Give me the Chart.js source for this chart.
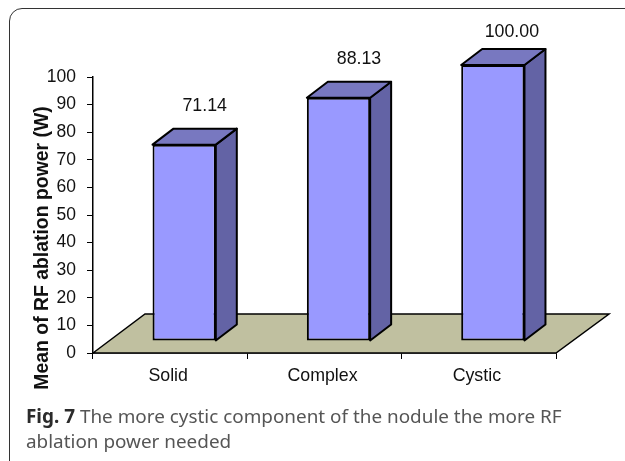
<!DOCTYPE html>
<html>
<head>
<meta charset="utf-8">
<title>Fig. 7</title>
<script src="https://cdn.jsdelivr.net/npm/chart.js@4"></script>
<style>
  html, body { margin: 0; padding: 0; background: #fff; width: 625px; height: 461px; overflow: hidden; }
  #graf { position: absolute; left: 0; top: 0; }
  #marco {
    position: absolute; left: 9px; top: 8px; width: 680px; height: 480px;
    border: 1.5px solid #333; border-radius: 13px;
  }
  #pie {
    position: absolute; left: 26px; top: 404px; width: 598px;
    font: 18.9px/25px "Noto Sans", sans-serif; color: #555;
  }
  #pie b { color: #2b2b2b; }
</style>
</head>
<body>
<canvas id="graf" width="625" height="461"></canvas>
<div id="marco"></div>
<div id="pie"><b>Fig. 7</b> The more cystic component of the nodule the more RF<br>ablation power needed</div>
<script>
const categories = ['Solid', 'Complex', 'Cystic'];
const values = [71.14, 88.13, 100.00];
const valueLabels = ['71.14', '88.13', '100.00'];
const yTitle = 'Mean of RF ablation power (W)';

const font = '"Liberation Sans", Arial, sans-serif';

// Pseudo 3D: bars sit on the floor, shifted from the axis
const shiftX = 14;
const shiftY = -12;
const depthX = 21;
const depthY = 16;

function poly(c, pts, fill) {
  c.beginPath();
  pts.forEach((p, i) => i ? c.lineTo(p[0], p[1]) : c.moveTo(p[0], p[1]));
  c.closePath();
  c.fillStyle = fill;
  c.fill();
  c.stroke();
}

const fake3d = {
  id: 'fake3d',
  beforeDatasetsDraw(chart) {
    const c = chart.ctx;
    const a = chart.chartArea;
    c.save();
    c.strokeStyle = '#000';
    c.lineWidth = 1.5;
    poly(c, [[a.left, a.bottom], [a.left + 52, a.bottom - 39], [a.right + 53, a.bottom - 39], [a.right, a.bottom]], '#c0c0a0');
    c.restore();
  },
  beforeDatasetDraw(chart) {
    chart.ctx.save();
    chart.ctx.translate(shiftX, shiftY);
  },
  afterDatasetDraw(chart, args) {
    const c = chart.ctx;
    c.strokeStyle = '#000';
    c.lineWidth = 2;
    c.lineJoin = 'round';
    args.meta.data.forEach(bar => {
      const l = bar.x - bar.width / 2;
      const r = bar.x + bar.width / 2;
      poly(c, [[r, bar.y], [r + depthX, bar.y - depthY], [r + depthX, bar.base - depthY], [r, bar.base]], '#6363a5');
      poly(c, [[l, bar.y], [l + depthX, bar.y - depthY], [r + depthX, bar.y - depthY], [r, bar.y]], '#7878c0');
    });
    c.restore();
  },
  afterDraw(chart) {
    const c = chart.ctx;
    const meta = chart.getDatasetMeta(0);
    c.save();
    c.fillStyle = '#111';
    c.textAlign = 'center';
    c.textBaseline = 'middle';
    c.font = '17.8px ' + font;
    meta.data.forEach((bar, i) => {
      const top = bar.y + shiftY;
      c.fillText(valueLabels[i], bar.x + shiftX + (i === 2 ? 19 : 20.5), Math.max(top - 39, 32));
    });
    c.translate(43, 248);
    c.rotate(-Math.PI / 2);
    c.font = 'bold 19.4px ' + font;
    c.fillText(yTitle, 0, 0);
    c.restore();
  }
};

new Chart(document.getElementById('graf').getContext('2d'), {
  type: 'bar',
  data: {
    labels: categories,
    datasets: [{
      data: values,
      backgroundColor: '#9999ff',
      borderColor: '#000',
      borderWidth: 2,
      borderSkipped: false,
      barPercentage: 0.41,
      categoryPercentage: 1,
      clip: false
    }]
  },
  plugins: [fake3d],
  options: {
    responsive: false,
    animation: false,
    layout: { padding: { top: 77, right: 69, left: 0, bottom: 0 } },
    plugins: {
      legend: { display: false },
      tooltip: { enabled: false }
    },
    scales: {
      x: {
        afterFit(scale) { scale.height = 108; },
        grid: { drawOnChartArea: false, color: '#000', tickLength: 6 },
        border: { color: '#000', width: 1.5 },
        ticks: { color: '#111', padding: 6, maxRotation: 0, labelOffset: -2, font: { family: font, size: 17.8 } }
      },
      y: {
        min: 0,
        max: 100,
        afterFit(scale) { scale.width = 93; },
        grid: { drawOnChartArea: false, color: '#000', tickLength: 6 },
        border: { color: '#000', width: 1.5 },
        ticks: { stepSize: 10, color: '#111', padding: 11, font: { family: font, size: 17.5 } }
      }
    }
  }
});
</script>
</body>
</html>
